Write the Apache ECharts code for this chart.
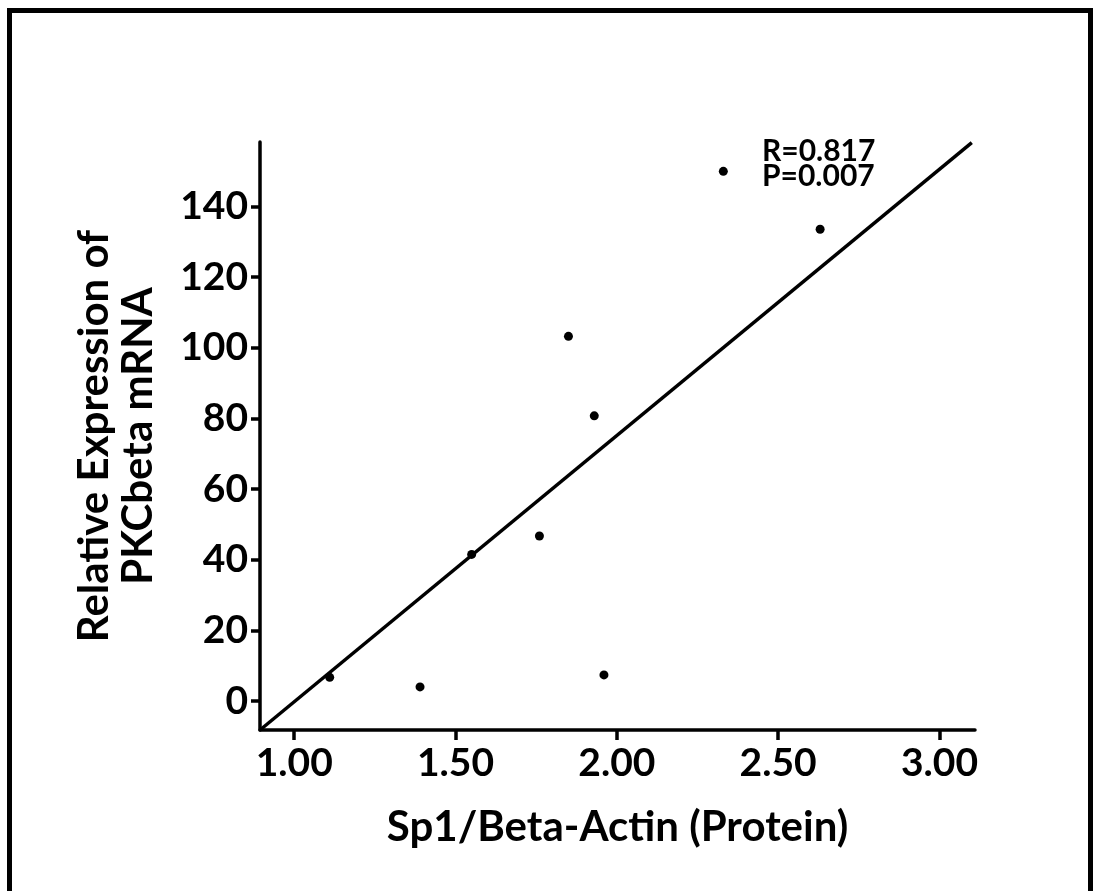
<!DOCTYPE html>
<html>
<head>
<meta charset="utf-8">
<script src="https://cdn.jsdelivr.net/npm/echarts@6/dist/echarts.min.js"></script>
<style>
  html, body { margin: 0; padding: 0; background: #fff; }
  #chart { width: 1094px; height: 891px; }
</style>
</head>
<body>
<div id="chart"></div>
<script>
// 散点数据
const sp1Values = [1.11, 1.39, 1.55, 1.76, 1.85, 1.93, 1.96, 2.33, 2.63];
const pkcValues = [6.7, 4.0, 41.5, 46.7, 103.2, 80.7, 7.4, 149.9, 133.5];

// 拟合线两端
const fitX = [0.894, 3.10];
const fitY = [-8.2, 158];

// 刻度
const xTicks = [1.0, 1.5, 2.0, 2.5, 3.0];
const yTicks = [0, 20, 40, 60, 80, 100, 120, 140];

const statsText = 'R=0.817\nP=0.007';

const chart = echarts.init(document.getElementById('chart'));

const fontFamily = 'Lato';

const option = {
    animation: false,
    backgroundColor: '#fff',
    grid: {
        left: 260,
        right: 119,
        top: 142,
        bottom: 161
    },
    xAxis: {
        type: 'value',
        min: 0.894,
        max: 3.11,
        name: 'Sp1/Beta-Actin (Protein)',
        nameLocation: 'middle',
        nameGap: 76,
        nameTextStyle: { fontFamily: fontFamily, fontWeight: 'bold', fontSize: 42, color: '#000' },
        splitLine: { show: false },
        axisLine: { show: true, onZero: false, lineStyle: { color: '#000', width: 3.5 } },
        axisTick: { show: true, customValues: xTicks, length: 10, lineStyle: { color: '#000', width: 3.5 } },
        axisLabel: {
            customValues: xTicks,
            formatter: v => v.toFixed(2),
            margin: 14,
            fontFamily: fontFamily, fontWeight: 'bold', fontSize: 39, color: '#000'
        }
    },
    yAxis: {
        type: 'value',
        min: -8.2,
        max: 158.2,
        name: 'Relative Expression of\nPKCbeta mRNA',
        nameLocation: 'middle',
        nameGap: 100,
        nameTextStyle: { fontFamily: fontFamily, fontWeight: 'bold', fontSize: 42, color: '#000', lineHeight: 44 },
        splitLine: { show: false },
        axisLine: { show: true, onZero: false, lineStyle: { color: '#000', width: 3.5 } },
        axisTick: { show: true, customValues: yTicks, length: 9, lineStyle: { color: '#000', width: 3.5 } },
        axisLabel: {
            customValues: yTicks,
            margin: 12,
            fontFamily: fontFamily, fontWeight: 'bold', fontSize: 39, color: '#000'
        }
    },
    series: [
        {
            type: 'scatter',
            data: sp1Values.map((x, i) => [x, pkcValues[i]]),
            symbolSize: 9,
            itemStyle: { color: '#000', opacity: 1 }
        },
        {
            type: 'line',
            data: fitX.map((x, i) => [x, fitY[i]]),
            symbol: 'none',
            lineStyle: { color: '#000', width: 3.5 }
        }
    ],
    graphic: [
        {
            type: 'rect',
            shape: { x: 9.5, y: 10.5, width: 1081, height: 900 },
            style: { fill: 'none', stroke: '#000', lineWidth: 5 }
        },
        {
            type: 'text',
            left: 762,
            top: 136,
            style: {
                text: statsText,
                fontFamily: fontFamily, fontWeight: 'bold', fontSize: 30,
                lineHeight: 25, fill: '#000'
            }
        }
    ]
};

chart.setOption(option);

window.addEventListener('resize', function() {
    chart.resize();
});
</script>
</body>
</html>
